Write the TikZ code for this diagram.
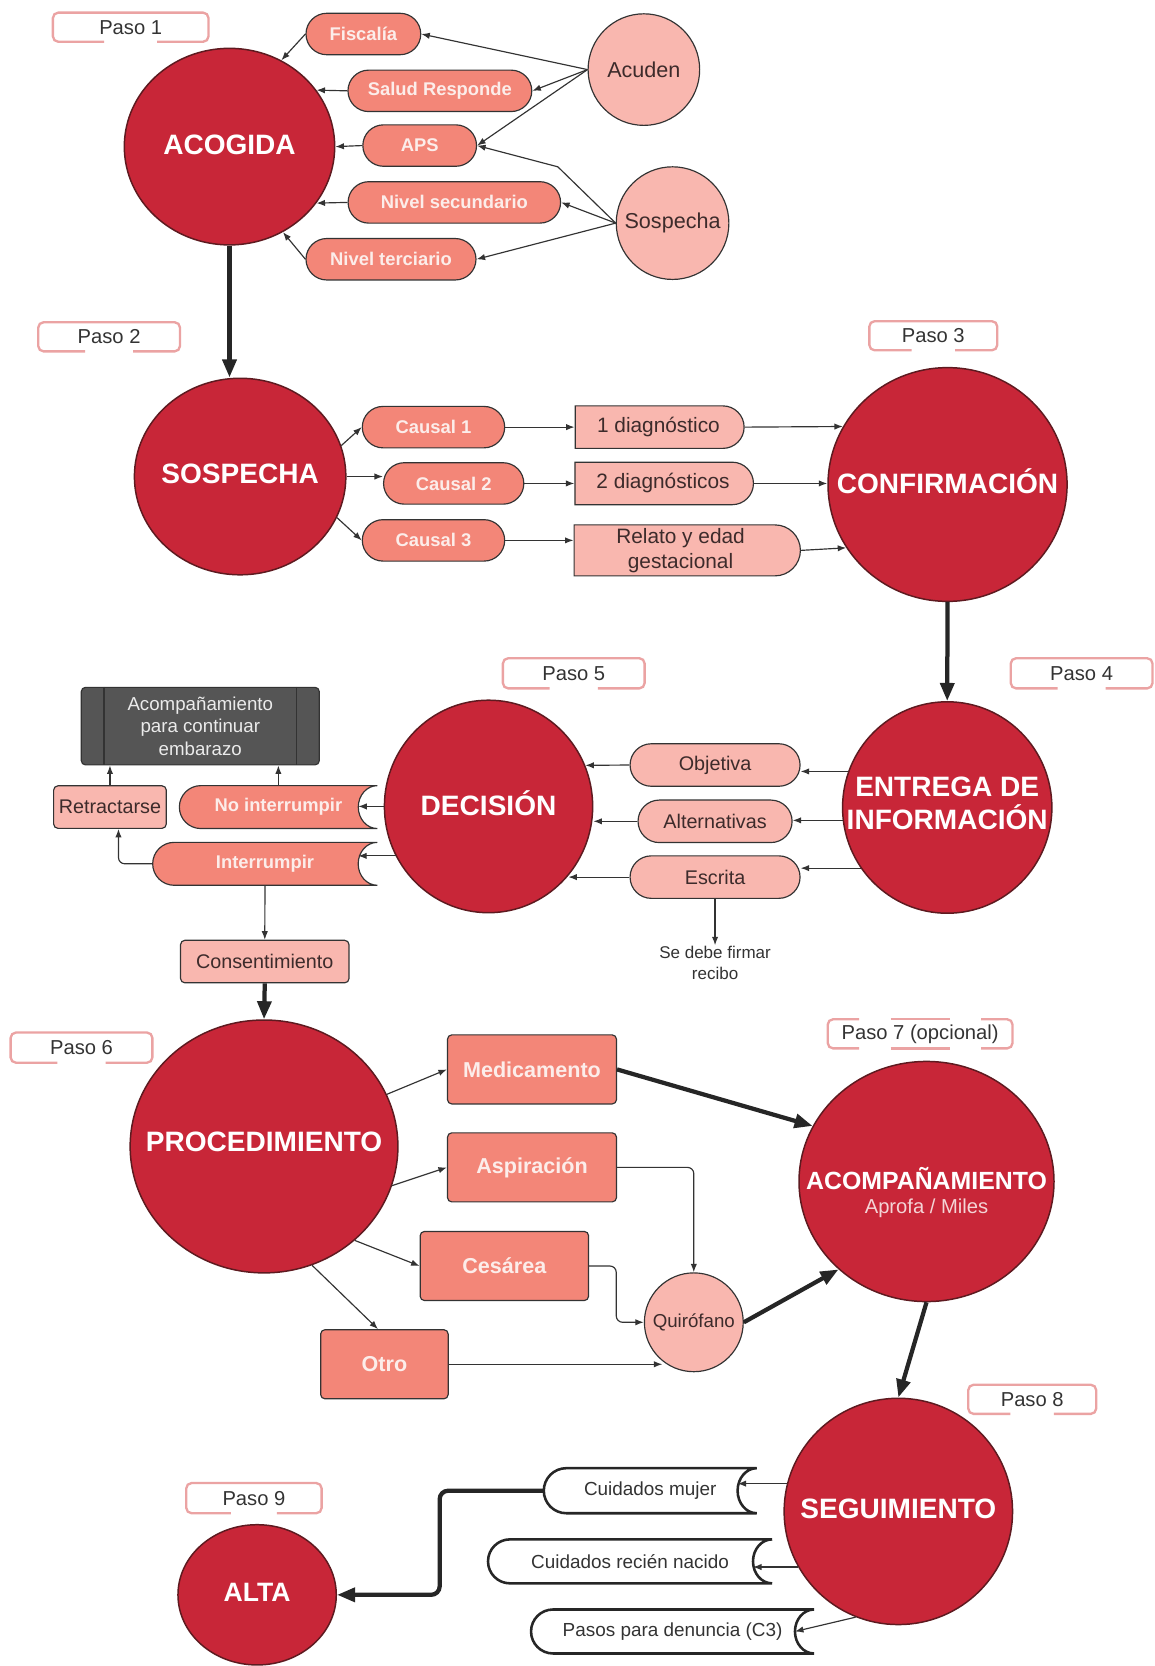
\documentclass[tikz,border=0pt]{standalone}
\usepackage{fontspec}
\setmainfont{Liberation Sans}
\usetikzlibrary{shapes.geometric,shapes.misc,arrows.meta,calc}
\definecolor{dred}{HTML}{C82638}
\definecolor{dredb}{HTML}{5E1A20}
\definecolor{salm}{HTML}{F38678}
\definecolor{lpink}{HTML}{F9B7AF}
\definecolor{pasob}{HTML}{EBA3A3}
\definecolor{lnk}{HTML}{333333}
\definecolor{dbox}{HTML}{555555}
\definecolor{txtd}{HTML}{3D2B2B}
\definecolor{wtxt}{HTML}{FCEDEA}
\definecolor{subt}{HTML}{F4D4D6}
\newcommand{\fsz}[2]{\fontsize{#1}{#2}\selectfont}
\pgfdeclarelayer{bg}
\pgfsetlayers{bg,main}
% stored-data outline around a plain node
\newcommand{\stshape}[2]{%
 \path[#2] let \p1=(#1.north west), \p2=(#1.south east), \n1={(\y1-\y2)/2} in
   (\x1+\n1,\y1) -- (\x2,\y1) arc[start angle=90, end angle=270, x radius=18pt, y radius=\n1]
   -- (\x1+\n1,\y2) arc[start angle=270, end angle=90, radius=\n1] -- cycle;}
% "Paso" frame with a gap in the bottom edge
\newcommand{\pasoframe}[1]{%
 \draw[pasoline] ($(#1.south west)!0.33!(#1.south east)$) -- (#1.south west) -- (#1.north west)
   -- (#1.north east) -- (#1.south east) -- ($(#1.south west)!0.67!(#1.south east)$);}
\begin{document}
\begin{tikzpicture}[x=1pt,y=-1pt,
 bigc/.style n args={2}{ellipse, draw=dredb, line width=1.4pt, fill=dred, minimum width=#1, minimum height=#2, inner sep=0pt},
 ttl/.style={text=white, font=\bfseries\fsz{26.4}{31}, inner sep=0pt, align=center},
 subtx/.style={text=subt, font=\fsz{19}{22}, inner sep=0pt},
 pill/.style={rounded rectangle, draw=lnk, line width=1.1pt, fill=salm, text=wtxt, font=\bfseries\fsz{17.3}{20}, minimum height=39pt, inner sep=0pt},
 lpill/.style={rounded rectangle, draw=lnk, line width=1.1pt, fill=lpink, text=txtd, font=\fsz{18.6}{21}, minimum height=40pt, inner sep=0pt},
 dshape/.style={rounded rectangle, rounded rectangle left arc=none, draw=lnk, line width=1.1pt, fill=lpink, text=txtd, font=\fsz{19.6}{24}, minimum height=40pt, inner sep=0pt, align=center},
 lbox/.style={rectangle, rounded corners=4pt, draw=lnk, line width=1.1pt, fill=lpink, text=txtd, font=\fsz{18.6}{21}, minimum height=40pt, inner sep=0pt},
 sbox/.style={rectangle, rounded corners=4pt, draw=lnk, line width=1.1pt, fill=salm, text=wtxt, font=\bfseries\fsz{20.3}{23}, minimum height=65pt, inner sep=0pt},
 smallc/.style={circle, draw=lnk, line width=1.1pt, fill=lpink, text=txtd, font=\fsz{20.3}{24}, inner sep=0pt},
 pnode/.style={rectangle, text=lnk, font=\fsz{19}{22}, minimum height=27pt, inner sep=0pt},
 pasoline/.style={draw=pasob, line width=2.2pt, rounded corners=5pt},
 stnode/.style={rectangle, text=wtxt, font=\bfseries\fsz{17.3}{20}, minimum height=40pt, inner sep=0pt},
 stW/.style={rectangle, text=lnk, font=\fsz{17.8}{21}, minimum height=41pt, inner sep=0pt},
 dkbox/.style={rectangle, rounded corners=4pt, draw=lnk, line width=1.1pt, fill=dbox, text=black!8, font=\fsz{17.6}{21.2}, align=center, minimum width=224pt, minimum height=73pt, inner sep=0pt},
 notetx/.style={text=lnk, font=\fsz{16}{19.5}, align=center, inner sep=1pt},
 conn/.style={draw=lnk, line width=1.1pt, -{Latex[length=8pt,width=6pt]}},
 thk/.style={draw=black!85, line width=4pt, -{Triangle[length=17pt,width=13pt]}}
]
\useasboundingbox (0,0) rectangle (1087,1568);

% ---------------- Row 1: ACOGIDA
\node[pnode, minimum width=146pt] (p1) at (123,25.6) {Paso 1};
\pasoframe{p1}
\node[bigc={198pt}{185pt}] (acog) at (216,138) {};
\node[ttl] (acogT) at (216,136) {ACOGIDA};
\node[pill, minimum width=108pt] (fisc) at (342,32) {Fiscalía};
\node[pill, minimum width=173pt] (salud) at (414,85.5) {Salud Responde};
\node[pill, minimum width=107pt] (aps) at (395,137) {APS};
\node[pill, minimum width=200pt] (nivs) at (427.6,190.5) {Nivel secundario};
\node[pill, minimum width=160pt] (nivt) at (368,244) {Nivel terciario};
\node[smallc, minimum size=105pt] (acud) at (606,65.5) {Acuden};
\node[smallc, minimum size=106pt] (sosc) at (633,210) {Sospecha};
\coordinate (bend1) at (525,157);

\draw[conn] (acud.west) -- (fisc.east);
\draw[conn] (acud.west) -- (salud.east);
\draw[conn] (acud.west) -- (aps.east);
\draw[conn] (sosc.west) -- (bend1) -- (aps.east);
\draw[conn] (sosc.west) -- (nivs.east);
\draw[conn] (sosc.west) -- (nivt.east);
\draw[conn] (fisc.west) -- (acog.59);
\draw[conn] (salud.west) -- (acog.33);
\draw[conn] (aps.west) -- (acog.east);
\draw[conn] (nivs.west) -- (acog.-33);
\draw[conn] (nivt.west) -- (acog.-58);

% ---------------- Row 2: SOSPECHA / CONFIRMACION
\node[pnode, minimum width=133pt] (p2) at (102.7,317) {Paso 2};
\pasoframe{p2}
\node[bigc={199pt}{185pt}] (sosp) at (226,448.5) {};
\node[ttl] (sospT) at (226,446) {SOSPECHA};
\node[pill, minimum width=134pt] (c1) at (408,402) {Causal 1};
\node[pill, minimum width=132pt] (c2) at (427,455) {Causal 2};
\node[pill, minimum width=134pt] (c3) at (408,508.6) {Causal 3};
\node[dshape, minimum width=159pt] (d1) at (619.7,402) {1 diagnóstico};
\node[dshape, minimum width=168pt] (d2) at (624,455) {2 diagnósticos};
\node[dshape, minimum width=213pt, minimum height=48pt] (d3) at (640.5,518) {Relato y edad\\gestacional};
\node[pnode, minimum width=120pt] (p3) at (878.4,316) {Paso 3};
\pasoframe{p3}
\node[bigc={225pt}{220pt}] (conf) at (891.8,456) {};
\node[ttl] (confT) at (891.8,453) {CONFIRMACIÓN};

\draw[thk] (acog.south) -- (acog.south |- sosp.north);
\draw[conn] (sosp.17) -- (c1.west);
\draw[conn] (sosp.east) -- (sosp.east -| c2.west);
\draw[conn] (sosp.-23) -- (c3.west);
\draw[conn] (c1.east) -- (d1.west);
\draw[conn] (c2.east) -- (d2.west);
\draw[conn] (c3.east) -- (c3.east -| d3.west);
\draw[conn] (d1.east) -- (conf.151);
\draw[conn] (d2.east) -- (d2.east -| conf.west);
\draw[conn] (d3.east) -- (conf.-148);

% ---------------- Row 3: ENTREGA / DECISION
\node[pnode, minimum width=133pt, minimum height=28pt] (p5) at (540,633.7) {Paso 5};
\pasoframe{p5}
\node[pnode, minimum width=133pt, minimum height=28pt] (p4) at (1018,633.7) {Paso 4};
\pasoframe{p4}
\node[bigc={197pt}{199pt}] (ent) at (891.5,760) {};
\node[ttl] (entT) at (891.5,756) {ENTREGA DE\\INFORMACIÓN};
\node[bigc={196pt}{200pt}] (dec) at (459.8,759) {};
\node[ttl] (decT) at (459.8,756) {DECISIÓN};
\node[lpill, minimum width=160pt] (obj) at (673,720) {Objetiva};
\node[lpill, minimum width=145pt] (alt) at (673,773) {Alternativas};
\node[lpill, minimum width=160pt] (esc) at (673,825.5) {Escrita};
\node[notetx] (firm) at (673,906.5) {Se debe firmar\\recibo};

\draw[thk] (conf.south) -- (ent.north);
\draw[conn] (ent.160) -- (ent.160 -| obj.east);
\draw[conn] (obj.west) -- (dec.23);
\draw[conn] (ent.-173) -- (ent.-173 -| alt.east);
\draw[conn] (alt.west) -- (alt.west -| dec.east);
\draw[conn] (ent.-145) -- (ent.-145 -| esc.east);
\draw[conn] (esc.west) -- (esc.west -| dec.-41);
\draw[conn] (esc.south) -- (firm.north);

\node[dkbox] (acmp) at (188.5,683.4) {Acompañamiento\\para continuar\\embarazo};
\draw[lnk, line width=1.1pt] ($(acmp.north west)+(22,0)$) -- ($(acmp.south west)+(22,0)$);
\draw[lnk, line width=1.1pt] ($(acmp.north east)+(-22,0)$) -- ($(acmp.south east)+(-22,0)$);
\node[lbox, minimum width=106pt] (retr) at (103.5,759.6) {Retractarse};
\node[stnode, minimum width=186pt] (noint) at (262,759.6) {No interrumpir};
\node[stnode, minimum width=211pt] (inter) at (249.4,813) {Interrumpir};
\begin{pgfonlayer}{bg}
\stshape{noint}{fill=salm, draw=lnk, line width=1.1pt}
\stshape{inter}{fill=salm, draw=lnk, line width=1.1pt}
\end{pgfonlayer}
\coordinate (nointC) at ($(noint.east)+(-18,0)$);
\coordinate (interC) at ($(inter.east)+(-18,0)$);
\node[lbox, minimum width=158.5pt] (cons) at (249.2,905) {Consentimiento};

\draw[conn] (dec.west) -- (dec.west -| nointC);
\draw[conn] (dec.-152) -- (dec.-152 -| interC);
\draw[conn] (noint.north) -- (noint.north |- acmp.south);
\draw[conn] (retr.north) -- (retr.north |- acmp.south);
\draw[conn, rounded corners=6pt] (inter.west) -| ($(retr.south)+(8,0)$);
\draw[conn] (inter.south) -- (cons.north);

% ---------------- Row 4: PROCEDIMIENTO / ACOMPANAMIENTO
\node[pnode, minimum width=133pt, minimum height=28pt] (p6) at (76.7,986) {Paso 6};
\pasoframe{p6}
\node[bigc={252pt}{238pt}] (proc) at (248.5,1079) {};
\node[ttl] (procT) at (248.5,1075) {PROCEDIMIENTO};
\node[sbox, minimum width=159pt] (med) at (500.7,1006.5) {Medicamento};
\node[sbox, minimum width=159pt] (asp) at (500.7,1098.7) {Aspiración};
\node[sbox, minimum width=158.5pt] (ces) at (474.7,1191.5) {Cesárea};
\node[sbox, minimum width=120pt] (otro) at (361.8,1284) {Otro};
\node[smallc, minimum size=93pt, font=\fsz{17.6}{20}] (quir) at (653,1244.5) {Quirófano};
\node[pnode, minimum width=173.5pt] (p7) at (866,973) {Paso 7 (opcional)};
\draw[pasoline] ($(p7.south west)!0.17!(p7.south east)$) -- (p7.south west) -- (p7.north west) -- ($(p7.north west)!0.17!(p7.north east)$);
\draw[pasoline] ($(p7.south east)!0.17!(p7.south west)$) -- (p7.south east) -- (p7.north east) -- ($(p7.north east)!0.17!(p7.north west)$);
\draw[pasoline] ($(p7.north west)!0.34!(p7.north east)$) -- ($(p7.north west)!0.66!(p7.north east)$);
\draw[pasoline] ($(p7.south west)!0.34!(p7.south east)$) -- ($(p7.south west)!0.66!(p7.south east)$);
\node[bigc={240pt}{226pt}] (acom) at (872,1112) {};
\node[ttl, font=\bfseries\fsz{23.4}{27}] (acomT) at (872,1109) {ACOMPAÑAMIENTO};
\node[subtx] (acomS) at (872,1137) {Aprofa / Miles};

\draw[thk] (cons.south) -- (proc.north);
\draw[conn] (proc.23) -- (med.west);
\draw[conn] (proc.-17) -- (asp.west);
\draw[conn] (proc.-46) -- (ces.west);
\draw[conn] (proc.-68) -- ($(otro.north)+(-6,0)$);
\draw[thk] (med.east) -- (acom.154);
\draw[conn, rounded corners=6pt] (asp.east) -| (quir.north);
\draw[conn, rounded corners=6pt] (ces.east) -- ($(ces.east)+(25.5,0)$) |- (quir.west);
\draw[conn] (otro.east) -- (otro.east -| quir.-129);
\draw[thk] (quir.east) -- (acom.-135);

% ---------------- Row 5: SEGUIMIENTO / ALTA
\node[pnode, minimum width=120pt] (p8) at (971.5,1317) {Paso 8};
\pasoframe{p8}
\node[bigc={215pt}{213pt}] (seg) at (845.5,1422.5) {};
\node[ttl] (segT) at (845.5,1420) {SEGUIMIENTO};
\node[stW, minimum width=200pt, minimum height=42pt] (cm) at (612,1403) {Cuidados mujer};
\node[stW, minimum width=267pt] (crn) at (593,1469.5) {Cuidados recién nacido};
\node[stW, minimum width=266pt] (pd) at (633,1535.5) {Pasos para denuncia (C3)};
\begin{pgfonlayer}{bg}
\stshape{cm}{fill=white, draw=black!85, line width=2.4pt}
\stshape{crn}{fill=white, draw=black!85, line width=2.4pt}
\stshape{pd}{fill=white, draw=black!85, line width=2.4pt}
\end{pgfonlayer}
\coordinate (cmC) at ($(cm.east)+(-18,0)$);
\coordinate (crnC) at ($(crn.east)+(-18,0)$);
\coordinate (pdC) at ($(pd.east)+(-18,0)$);
\node[pnode, minimum width=127pt, minimum height=28pt] (p9) at (239,1410) {Paso 9};
\pasoframe{p9}
\node[bigc={149pt}{132pt}] (alta) at (242,1501) {};
\node[ttl, font=\bfseries\fsz{25}{30}] (altaT) at (242,1499) {ALTA};

\draw[thk] (acom.south) -- (seg.north);
\draw[conn] (seg.166) -- (seg.166 -| cmC);
\draw[conn] (seg.-151) -- (seg.-151 -| crnC);
\draw[conn] (seg.-112) -- (pdC);
\draw[thk, rounded corners=8pt] (cm.west) -- ($(cm.west)+(-98,0)$) |- (alta.east);
\end{tikzpicture}
\end{document}
